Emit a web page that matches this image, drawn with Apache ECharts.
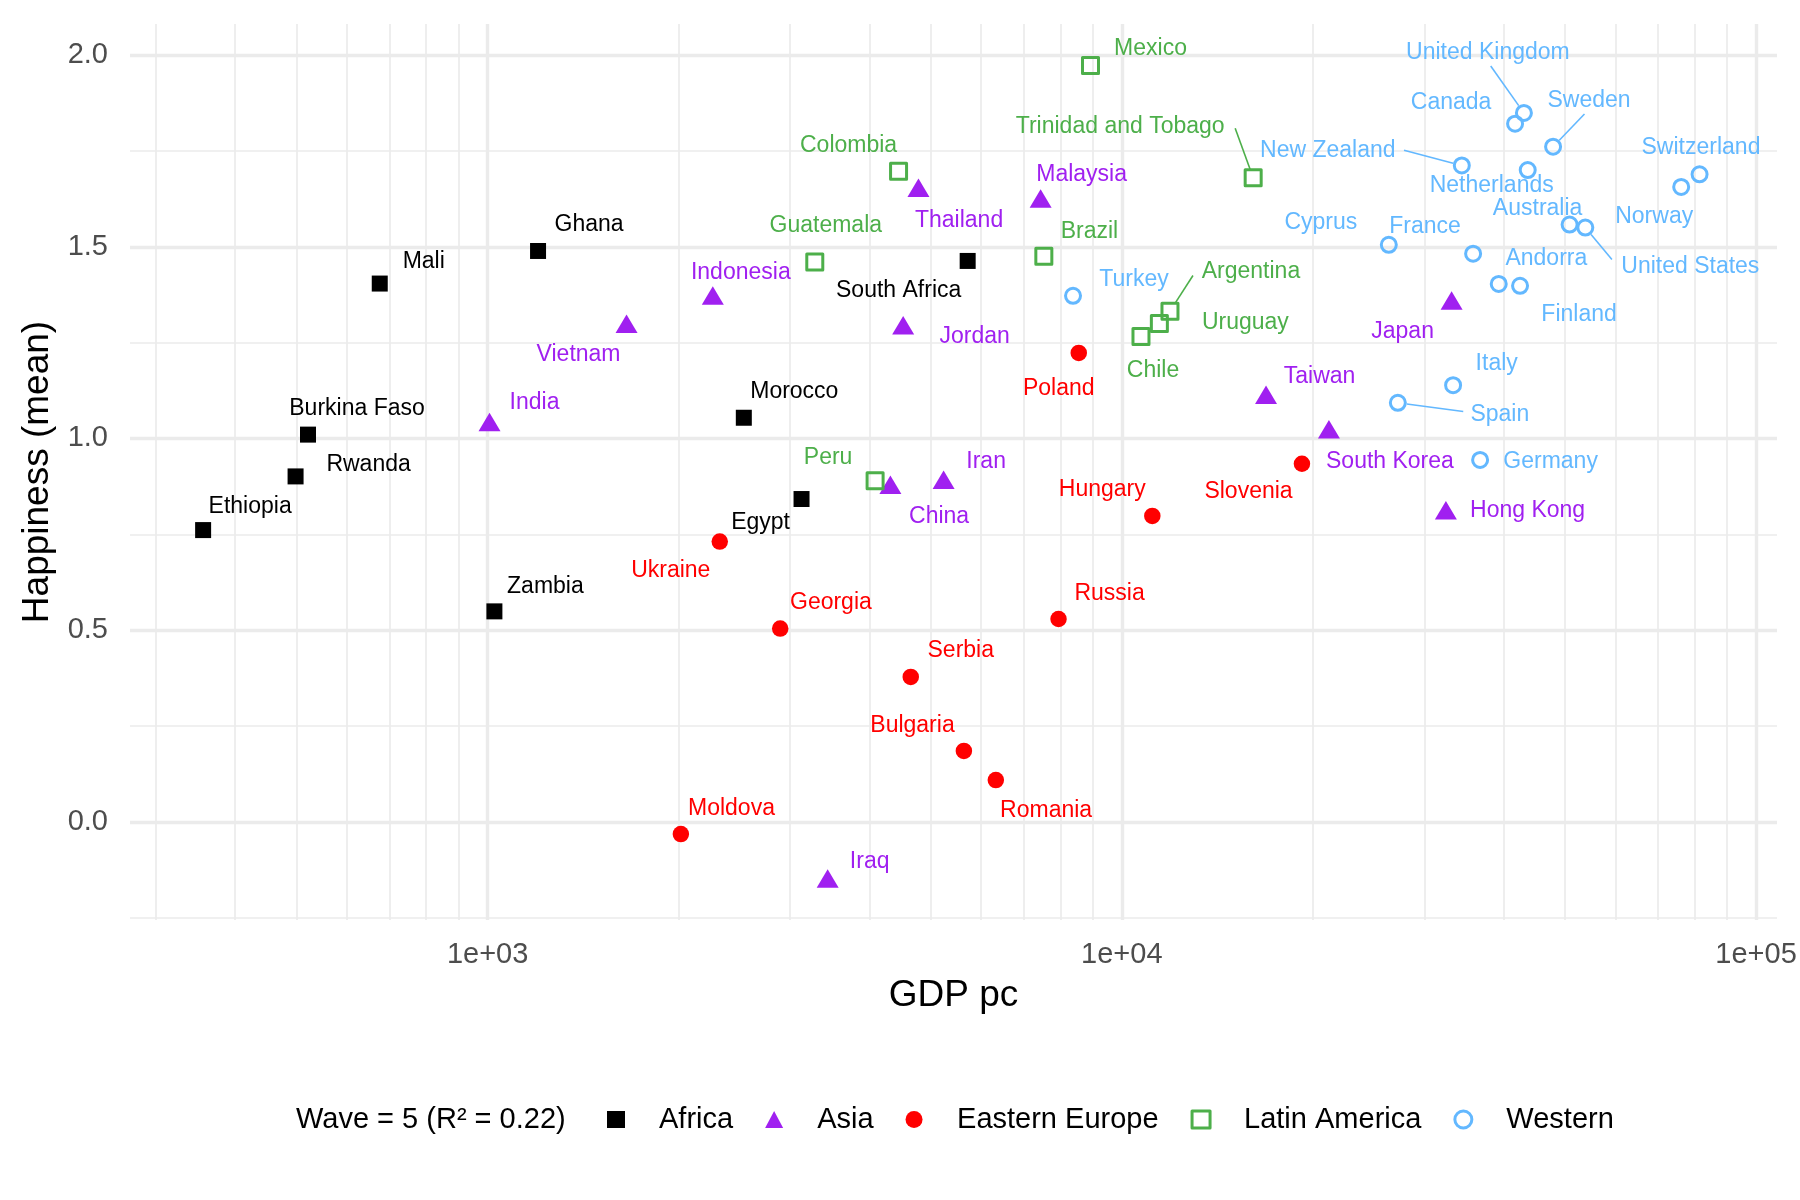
<!DOCTYPE html>
<html><head><meta charset="utf-8">
<script src="https://cdn.jsdelivr.net/npm/echarts@6/dist/echarts.min.js"></script>
<style>html,body{margin:0;padding:0;background:#fff}#chart{width:1800px;height:1200px}</style>
</head><body><div id="chart"></div>
<script>
// ---------------- DATA ----------------
const africaNames = ['Ethiopia','Rwanda','Burkina Faso','Mali','Ghana','Zambia','Morocco','Egypt','South Africa'];
const africaGDP   = [356, 498, 521, 676, 1201, 1025, 2535, 3126, 5714];
const africaHappy = [0.761, 0.901, 1.010, 1.404, 1.489, 0.549, 1.054, 0.842, 1.463];

const asiaNames = ['India','Vietnam','Indonesia','Thailand','Malaysia','Jordan','China','Iran','Iraq','Taiwan','South Korea','Japan','Hong Kong'];
const asiaGDP   = [1007, 1656, 2265, 4779, 7447, 4521, 4316, 5236, 3437, 16880, 21210, 33110, 32430];
const asiaHappy = [1.043, 1.299, 1.373, 1.654, 1.626, 1.295, 0.879, 0.892, -0.148, 1.114, 1.024, 1.360, 0.813];

const eeNames = ['Poland','Hungary','Slovenia','Russia','Ukraine','Georgia','Serbia','Bulgaria','Romania','Moldova'];
const eeGDP   = [8552, 11170, 19230, 7947, 2323, 2893, 4647, 5636, 6329, 2017];
const eeHappy = [1.223, 0.798, 0.934, 0.529, 0.731, 0.504, 0.378, 0.185, 0.109, -0.032];

const laNames = ['Mexico','Trinidad and Tobago','Colombia','Guatemala','Brazil','Argentina','Uruguay','Chile','Peru'];
const laGDP   = [8925, 16110, 4446, 3280, 7534, 11910, 11460, 10720, 4083];
const laHappy = [1.973, 1.680, 1.697, 1.460, 1.475, 1.332, 1.300, 1.266, 0.890];

const westNames = ['United Kingdom','Canada','Sweden','New Zealand','Netherlands','Switzerland','Norway','Australia','United States','Cyprus','France','Andorra','Finland','Turkey','Italy','Spain','Germany'];
const westGDP   = [43050, 41690, 47860, 34360, 43650, 81460, 76200, 50820, 53800, 26360, 35800, 39290, 42450, 8376, 33290, 27240, 36720];
const westHappy = [1.849, 1.821, 1.761, 1.712, 1.700, 1.689, 1.656, 1.558, 1.550, 1.505, 1.482, 1.403, 1.398, 1.372, 1.139, 1.093, 0.944];

const regionNames = ['Africa','Asia','Eastern Europe','Latin America','Western'];
const legendTitle = 'Wave = 5 (R\u00B2 = 0.22)';

const xMajorTicks = [1000, 10000, 100000];
const xTickLabels = ['1e+03', '1e+04', '1e+05'];
const xMinorTicks = [300,400,500,600,700,800,900,2000,3000,4000,5000,6000,7000,8000,9000,20000,30000,40000,50000,60000,70000,80000,90000];
const yMajorTicks = [0, 0.5, 1, 1.5, 2];
const yTickLabels = ['0.0', '0.5', '1.0', '1.5', '2.0'];
const yMinorTicks = [-0.25, 0.25, 0.75, 1.25, 1.75];

// ---------------- LABEL PLACEMENT (pixel offsets from point) ----------------
const labelOffsets = {
 'Ethiopia':[47,-25],'Rwanda':[73,-13],'Burkina Faso':[49,-27],'Mali':[44,-23],'Ghana':[51,-28],
 'Zambia':[51,-26],'Morocco':[50.5,-27.3],'Egypt':[-41,22],'South Africa':[-69,28.6],
 'India':[45,-20.5],'Vietnam':[-48,29],'Indonesia':[28,-24.3],'Thailand':[40.6,31.5],'Malaysia':[41,-25],
 'Jordan':[71.5,10],'China':[48.7,30.5],'Iran':[42.5,-19.5],'Iraq':[42,-18.7],'Taiwan':[53.5,-19.5],
 'South Korea':[61,30.5],'Japan':[-49,30],'Hong Kong':[81.7,-1],
 'Poland':[-20,34],'Hungary':[-50,-27.4],'Slovenia':[-53.4,26.7],'Russia':[51,-27],'Ukraine':[-49,27.3],
 'Georgia':[50.7,-27],'Serbia':[50,-27.3],'Bulgaria':[-51.4,-27],'Romania':[50.3,28.8],'Moldova':[50.6,-27],
 'Mexico':[60,-18.6],'Trinidad and Tobago':[-133,-53],'Colombia':[-50,-27],'Guatemala':[11,-37.7],
 'Brazil':[45.6,-26],'Argentina':[81,-41],'Uruguay':[86,-2],'Chile':[12,32.3],'Peru':[-47,-24.3],
 'United Kingdom':[-36,-62],'Canada':[-64,-23],'Sweden':[36,-48],'New Zealand':[-134,-16],
 'Netherlands':[-36,14],'Switzerland':[1.4,-28.3],'Norway':[-27,28.3],'Australia':[-32,-17.6],
 'United States':[105,38],'Cyprus':[-68,-23.7],'France':[-48,-28.3],'Andorra':[47.6,-26.4],
 'Finland':[59,27.6],'Turkey':[61,-18],'Italy':[43.6,-23],'Spain':[102,10],'Germany':[70.5,0.7]
};
const LABEL_DY = 1.5;
// label-side end of connector segments, pixel offsets from the point
const segmentEnds = {
 'Trinidad and Tobago':[-18,-49.4],'Argentina':[23,-35.7],'United Kingdom':[-33.2,-47],
 'Sweden':[31.4,-32.7],'New Zealand':[-57.8,-15.3],'United States':[26.6,32],'Spain':[65.4,8.7]
};

// ---------------- STYLE ----------------
const FONT = 'Liberation Sans, Arial, sans-serif';
const COLORS = {'Africa':'#000000','Asia':'#A020F0','Eastern Europe':'#FF0000','Latin America':'#4DAF4A','Western':'#63B8FF'};
const GRID_COLOR = '#EBEBEB';

const regions = [
  {name: 'Africa', names: africaNames, gdp: africaGDP, happy: africaHappy, symbol: 'rect', size: 16, hollow: false},
  {name: 'Asia', names: asiaNames, gdp: asiaGDP, happy: asiaHappy, symbol: 'triangle', size: [22, 18.5], hollow: false},
  {name: 'Eastern Europe', names: eeNames, gdp: eeGDP, happy: eeHappy, symbol: 'circle', size: 16.5, hollow: false},
  {name: 'Latin America', names: laNames, gdp: laGDP, happy: laHappy, symbol: 'rect', size: 16, hollow: true},
  {name: 'Western', names: westNames, gdp: westGDP, happy: westHappy, symbol: 'circle', size: 15, hollow: true}
];

function makeSeries(r) {
  const color = COLORS[r.name];
  return {
    name: r.name, type: 'scatter', symbol: r.symbol, symbolSize: r.size, z: 3,
    silent: true,
    itemStyle: r.hollow
      ? {color: 'rgba(0,0,0,0)', borderColor: color, borderWidth: 3, borderJoin: 'round', opacity: 1}
      : {color: color, opacity: 1},
    label: {show: true, position: 'inside', formatter: '{b}', color: color, fontSize: 23, fontFamily: FONT},
    emphasis: {disabled: true},
    data: r.names.map(function (n, i) {
      const o = labelOffsets[n];
      return {name: n, value: [r.gdp[i], r.happy[i]], label: {offset: [o[0], o[1] + LABEL_DY]}};
    })
  };
}

// connector segments (from data values, positioned through the axes)
const segList = [];
regions.forEach(function (r) {
  r.names.forEach(function (n, i) {
    if (segmentEnds[n]) segList.push({name: n, value: [r.gdp[i], r.happy[i]], color: COLORS[r.name], end: segmentEnds[n]});
  });
});

const gridLineData = []
  .concat(xMinorTicks.map(v => ({xAxis: v, lineStyle: {color: GRID_COLOR, width: 1.7, type: 'solid'}})))
  .concat(yMinorTicks.map(v => ({yAxis: v, lineStyle: {color: GRID_COLOR, width: 1.7, type: 'solid'}})))
  .concat(xMajorTicks.map(v => ({xAxis: v, lineStyle: {color: GRID_COLOR, width: 3.4, type: 'solid'}})))
  .concat(yMajorTicks.map(v => ({yAxis: v, lineStyle: {color: GRID_COLOR, width: 3.4, type: 'solid'}})));

function findLabel(ticks, labels, value) {
  for (let i = 0; i < ticks.length; i++) {
    if (Math.abs(ticks[i] - value) < 1e-6 * Math.max(1, Math.abs(ticks[i]))) return labels[i];
  }
  return '';
}

const chart = echarts.init(document.getElementById('chart'), null, {renderer: 'canvas'});
chart.setOption({
  animation: false,
  backgroundColor: '#ffffff',
  textStyle: {fontFamily: FONT},
  title: {
    text: legendTitle, left: 296, top: 1105, padding: 0,
    textStyle: {fontSize: 29, fontWeight: 'normal', color: '#000', fontFamily: FONT}
  },
  legend: {
    left: 607, top: 1105, orient: 'horizontal', padding: 0,
    itemWidth: 18, itemHeight: 17, itemGap: 32, selectedMode: false,
    textStyle: {fontSize: 29, color: '#000', fontFamily: FONT, padding: [0, 0, 0, 29]},
    data: [
      {name: 'Africa', icon: 'rect', itemStyle: {color: COLORS['Africa'], borderWidth: 0}},
      {name: 'Asia', icon: 'triangle', itemStyle: {color: COLORS['Asia'], borderWidth: 0}},
      {name: 'Eastern Europe', icon: 'circle', itemStyle: {color: COLORS['Eastern Europe'], borderWidth: 0}},
      {name: 'Latin America', icon: 'rect', itemStyle: {color: 'rgba(0,0,0,0)', borderColor: COLORS['Latin America'], borderWidth: 3}},
      {name: 'Western', icon: 'circle', itemStyle: {color: 'rgba(0,0,0,0)', borderColor: COLORS['Western'], borderWidth: 3}}
    ]
  },
  grid: {left: 130, right: 23, top: 24, bottom: 280, containLabel: false, outerBoundsMode: 'none'},
  xAxis: {
    type: 'log', logBase: 10, min: 273, max: 107900,
    name: 'GDP pc', nameLocation: 'middle', nameGap: 57,
    nameTextStyle: {fontSize: 37, color: '#000', fontFamily: FONT},
    axisLine: {show: false}, axisTick: {show: false},
    splitLine: {show: false}, minorTick: {show: false}, minorSplitLine: {show: false},
    axisLabel: {
      customValues: xMajorTicks, fontSize: 29, color: '#4D4D4D', margin: 20, fontFamily: FONT,
      formatter: function (v) { return findLabel(xMajorTicks, xTickLabels, v); }
    }
  },
  yAxis: {
    type: 'value', min: -0.256, max: 2.081,
    name: 'Happiness (mean)', nameLocation: 'middle', nameGap: 73,
    nameTextStyle: {fontSize: 37, color: '#000', fontFamily: FONT},
    axisLine: {show: false}, axisTick: {show: false},
    splitLine: {show: false}, minorSplitLine: {show: false},
    axisLabel: {
      customValues: yMajorTicks, fontSize: 29, color: '#4D4D4D', margin: 22, fontFamily: FONT,
      formatter: function (v) { return findLabel(yMajorTicks, yTickLabels, v); }
    }
  },
  series: [
    {
      name: '__grid', type: 'scatter', data: [], silent: true, z: 1,
      markLine: {
        silent: true, symbol: 'none', animation: false, z: 1,
        label: {show: false}, emphasis: {disabled: true},
        data: gridLineData
      }
    },
    {
      name: '__segments', type: 'custom', silent: true, z: 2,
      encode: {x: 0, y: 1},
      data: segList.map(s => ({name: s.name, value: s.value})),
      renderItem: function (params, api) {
        const s = segList[params.dataIndex];
        const p = api.coord([api.value(0), api.value(1)]);
        const ex = p[0] + s.end[0], ey = p[1] + s.end[1];
        const dx = ex - p[0], dy = ey - p[1];
        const L = Math.sqrt(dx * dx + dy * dy);
        const sx = p[0] + dx / L * 9, sy = p[1] + dy / L * 9;
        return {type: 'line', shape: {x1: sx, y1: sy, x2: ex, y2: ey}, style: {stroke: s.color, lineWidth: 1.6}, silent: true};
      }
    }
  ].concat(regions.map(makeSeries))
});
</script>
</body></html>
